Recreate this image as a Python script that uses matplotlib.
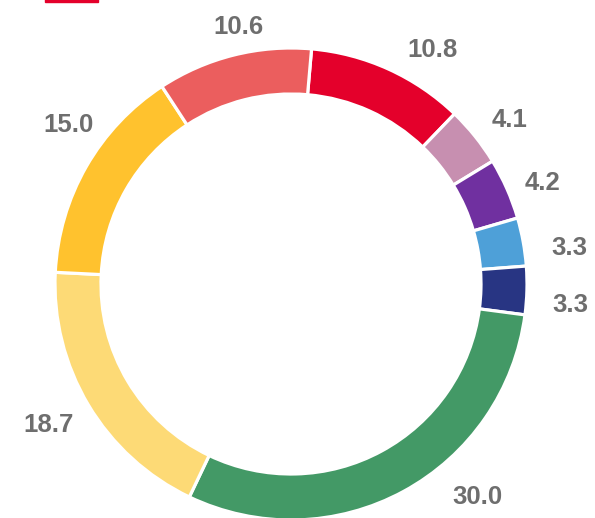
import numpy as np
import matplotlib.pyplot as plt
from matplotlib.patches import Rectangle

plt.rcParams['font.family'] = ['Liberation Sans', 'DejaVu Sans']

# data (clockwise from the top)
values = [10.8, 4.1, 4.2, 3.3, 3.3, 30.0, 18.7, 15.0, 10.6]
labels = ['10.8', '4.1', '4.2', '3.3', '3.3', '30.0', '18.7', '15.0', '10.6']
colors = ['#E4002B', '#C78FB0', '#7030A0', '#4EA0D8', '#283583',
          '#439966', '#FDDA76', '#FFC22E', '#EB5E5E']

# label placement tweaks (degrees, radius factor)
lab_dang = [-6.7, -1.9, -2.0, -2.9, -2.7, 12.8, -0.7, -5.7, -2.5]
lab_rf = [1.157, 1.157, 1.148, 1.19, 1.187, 1.2, 1.19, 1.16, 1.11]

W, H = 595, 518
fig = plt.figure(figsize=(W / 100, H / 100), dpi=100)
ax = fig.add_axes([0, 0, 1, 1])

cx, cy = 291, H - 284
R = 236
start = 85

wedges, _ = ax.pie(values, colors=colors, center=(cx, cy), radius=R,
                   startangle=start, counterclock=False, frame=True,
                   wedgeprops=dict(width=46, edgecolor='white', linewidth=2.3))
ax.set_xlim(0, W)
ax.set_ylim(0, H)
ax.axis('off')

cum = np.cumsum([0] + values[:-1])
total = sum(values)
for i, v in enumerate(values):
    mid = start - (cum[i] + v / 2) / total * 360 + lab_dang[i]
    r = R * lab_rf[i]
    x = cx + r * np.cos(np.radians(mid))
    y = cy + r * np.sin(np.radians(mid))
    ax.text(x, y, labels[i], ha='center', va='center', fontsize=18.5,
            fontweight='bold', color='#6E6E6E')

# legend marker cut off at the top edge
ax.add_patch(Rectangle((45, H - 2), 53, 4, color='#E4002B', clip_on=False))

fig.savefig('out.png', dpi=100)
